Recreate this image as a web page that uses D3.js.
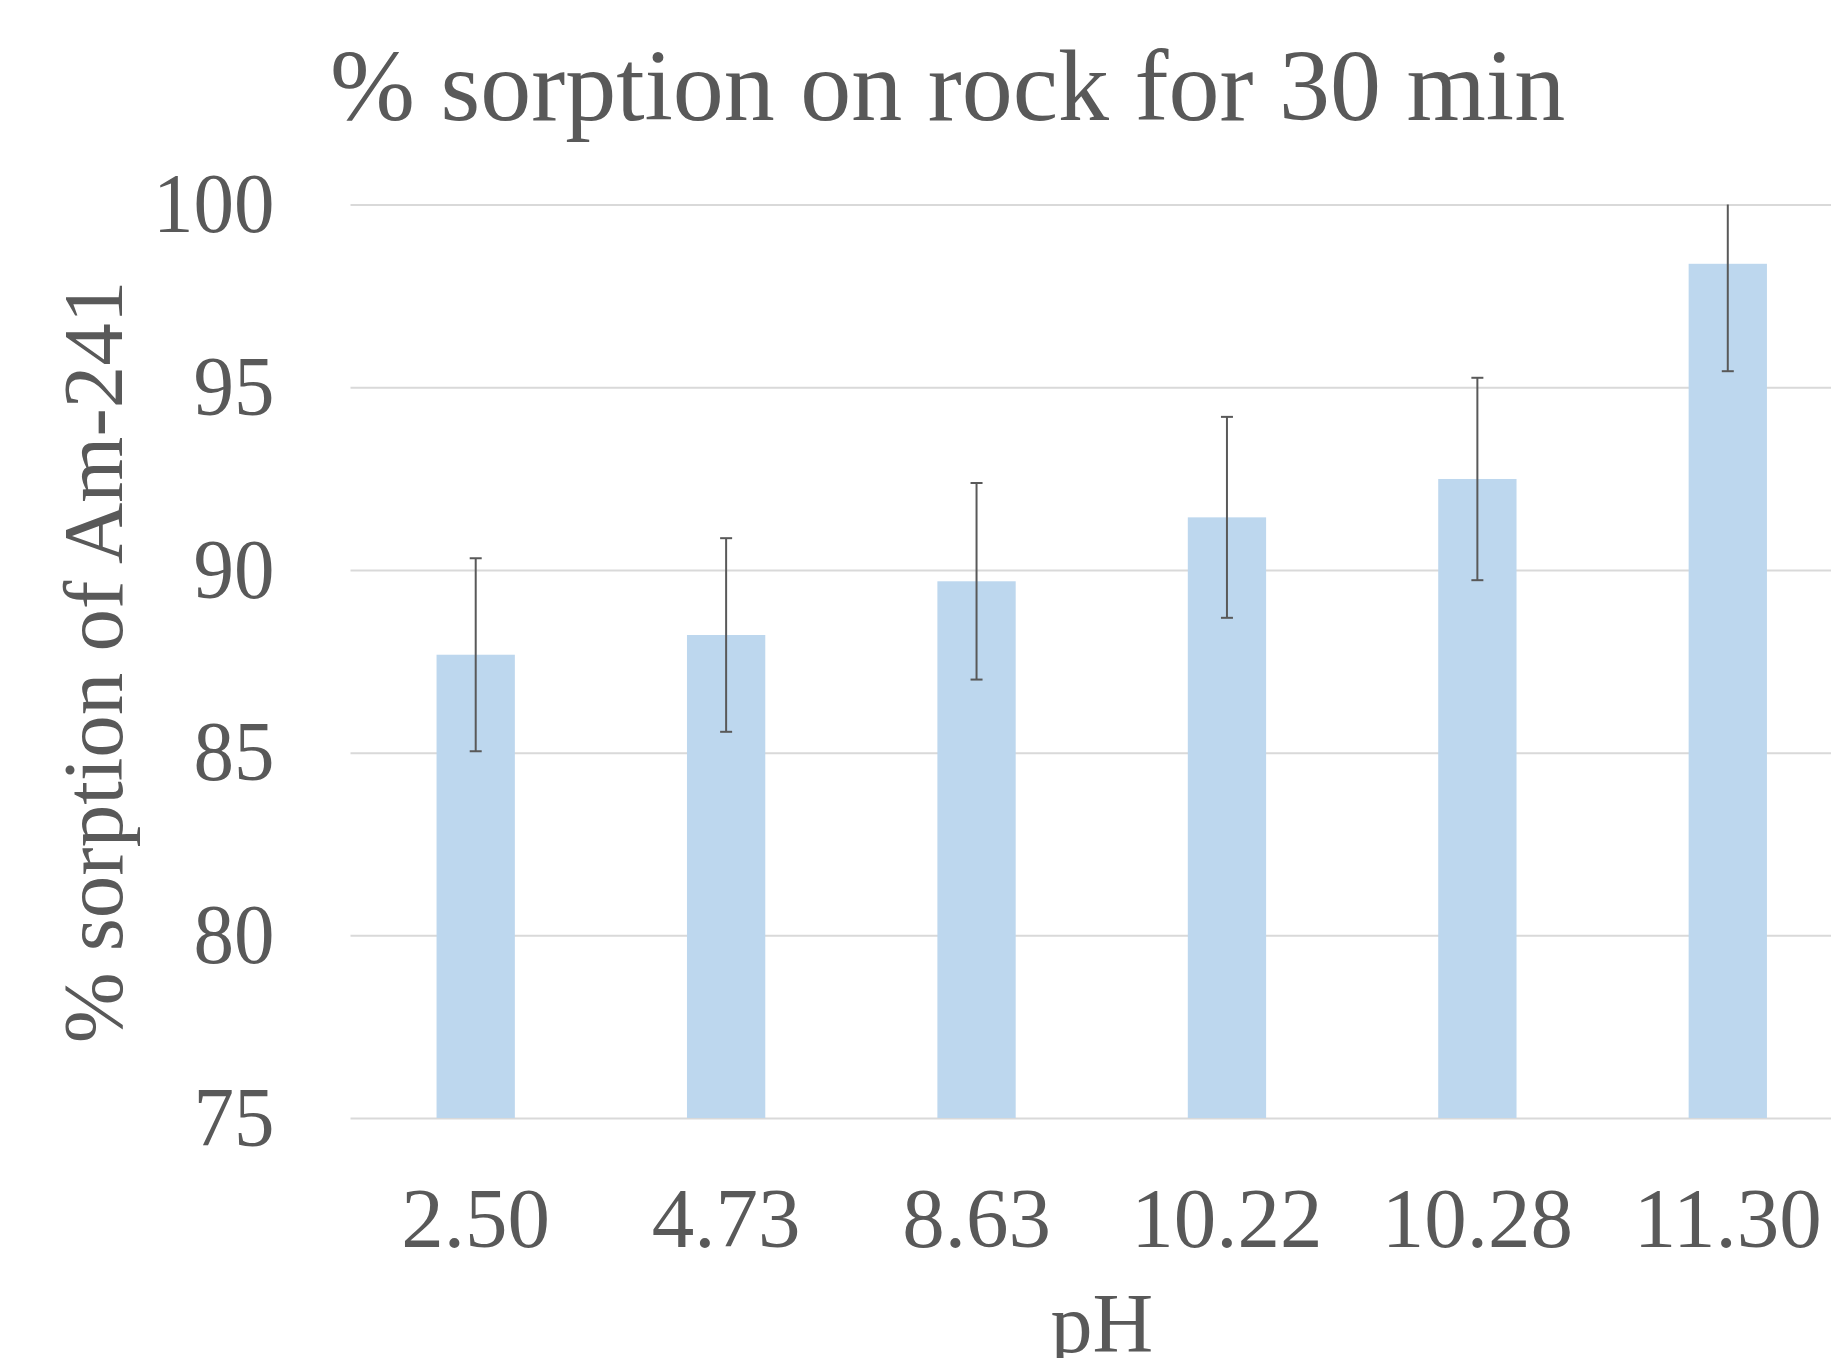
<!DOCTYPE html>
<html>
<head>
<meta charset="utf-8">
<script src="https://cdn.jsdelivr.net/npm/d3@7"></script>
<style>
  html, body { margin: 0; padding: 0; background: #ffffff; overflow: hidden; }
  svg { display: block; }
  text { font-family: "Liberation Serif", "Times New Roman", serif; fill: #595959; }
</style>
</head>
<body>
<svg id="chart" width="1831" height="1358"></svg>
<script>
// ---- data ----
const categories = ["2.50", "4.73", "8.63", "10.22", "10.28", "11.30"];
const sorption   = [87.68, 88.22, 89.69, 91.44, 92.49, 98.38];
const errors     = [2.64, 2.65, 2.69, 2.75, 2.77, 2.94];
const yTicks     = [75, 80, 85, 90, 95, 100];
const titleText  = "% sorption on rock for 30 min";
const xLabel     = "pH";
const yLabel     = "% sorption of Am-241";

// ---- layout ----
const W = 1831, H = 1358;
const plot = { left: 350.5, right: 1853, top: 204.6, bottom: 1118 };
const textColor = "#595959";

const svg = d3.select("#chart");

const x = d3.scaleBand()
  .domain(categories)
  .range([plot.left, plot.right])
  .paddingInner(0.6873)
  .paddingOuter(0.6873 / 2);

const y = d3.scaleLinear()
  .domain([75, 100])
  .range([plot.bottom, plot.top]);

// clip for plot area
svg.append("defs").append("clipPath").attr("id", "plotClip")
  .append("rect")
  .attr("x", plot.left)
  .attr("y", y(100))
  .attr("width", plot.right - plot.left)
  .attr("height", y(75) - y(100) + 2);

// y axis with gridlines
const yAxis = d3.axisLeft(y)
  .tickValues(yTicks)
  .tickFormat(d3.format("d"))
  .tickSizeInner(-(plot.right - plot.left))
  .tickSizeOuter(0)
  .tickPadding(76);

const yg = svg.append("g")
  .attr("transform", `translate(${plot.left},0)`)
  .call(yAxis);
yg.select(".domain").remove();
yg.selectAll(".tick line")
  .attr("stroke", "#d9d9d9")
  .attr("stroke-width", 2);
yg.selectAll(".tick text")
  .attr("font-family", "Liberation Serif, Times New Roman, serif")
  .attr("font-size", 81)
  .attr("fill", textColor)
  .attr("transform", "scale(1,1.05)");

// bars
const g = svg.append("g").attr("clip-path", "url(#plotClip)");
g.selectAll("rect.bar")
  .data(categories)
  .join("rect")
  .attr("class", "bar")
  .attr("x", d => x(d))
  .attr("width", x.bandwidth())
  .attr("y", (d, i) => y(sorption[i]))
  .attr("height", (d, i) => y(75) - y(sorption[i]))
  .attr("fill", "#bdd7ee");

// error bars
const capHalf = 6;
const eb = g.selectAll("g.err")
  .data(categories)
  .join("g")
  .attr("class", "err")
  .attr("stroke", "#595959")
  .attr("stroke-width", 2);
eb.append("line")
  .attr("x1", d => x(d) + x.bandwidth() / 2)
  .attr("x2", d => x(d) + x.bandwidth() / 2)
  .attr("y1", (d, i) => y(sorption[i] + errors[i]))
  .attr("y2", (d, i) => y(sorption[i] - errors[i]));
eb.append("line")
  .attr("x1", d => x(d) + x.bandwidth() / 2 - capHalf)
  .attr("x2", d => x(d) + x.bandwidth() / 2 + capHalf)
  .attr("y1", (d, i) => y(sorption[i] + errors[i]))
  .attr("y2", (d, i) => y(sorption[i] + errors[i]));
eb.append("line")
  .attr("x1", d => x(d) + x.bandwidth() / 2 - capHalf)
  .attr("x2", d => x(d) + x.bandwidth() / 2 + capHalf)
  .attr("y1", (d, i) => y(sorption[i] - errors[i]))
  .attr("y2", (d, i) => y(sorption[i] - errors[i]));

// x axis labels
const xAxis = d3.axisBottom(x).tickSize(0).tickPadding(0);
const xg = svg.append("g")
  .attr("transform", `translate(0,${plot.bottom})`)
  .call(xAxis);
xg.select(".domain").remove();
xg.selectAll(".tick text")
  .attr("font-family", "Liberation Serif, Times New Roman, serif")
  .attr("font-size", 85)
  .attr("fill", textColor)
  .attr("y", 129)
  .attr("dy", 0);

// title
svg.append("text")
  .attr("x", 330)
  .attr("y", 120)
  .attr("font-size", 102)
  .text(titleText);

// x axis title
svg.append("text")
  .attr("x", (plot.left + plot.right) / 2)
  .attr("y", 1352)
  .attr("text-anchor", "middle")
  .attr("font-size", 84)
  .text(xLabel);

// y axis title
svg.append("text")
  .attr("transform", "translate(122,662) rotate(-90)")
  .attr("text-anchor", "middle")
  .attr("font-size", 85)
  .text(yLabel);
</script>
</body>
</html>
